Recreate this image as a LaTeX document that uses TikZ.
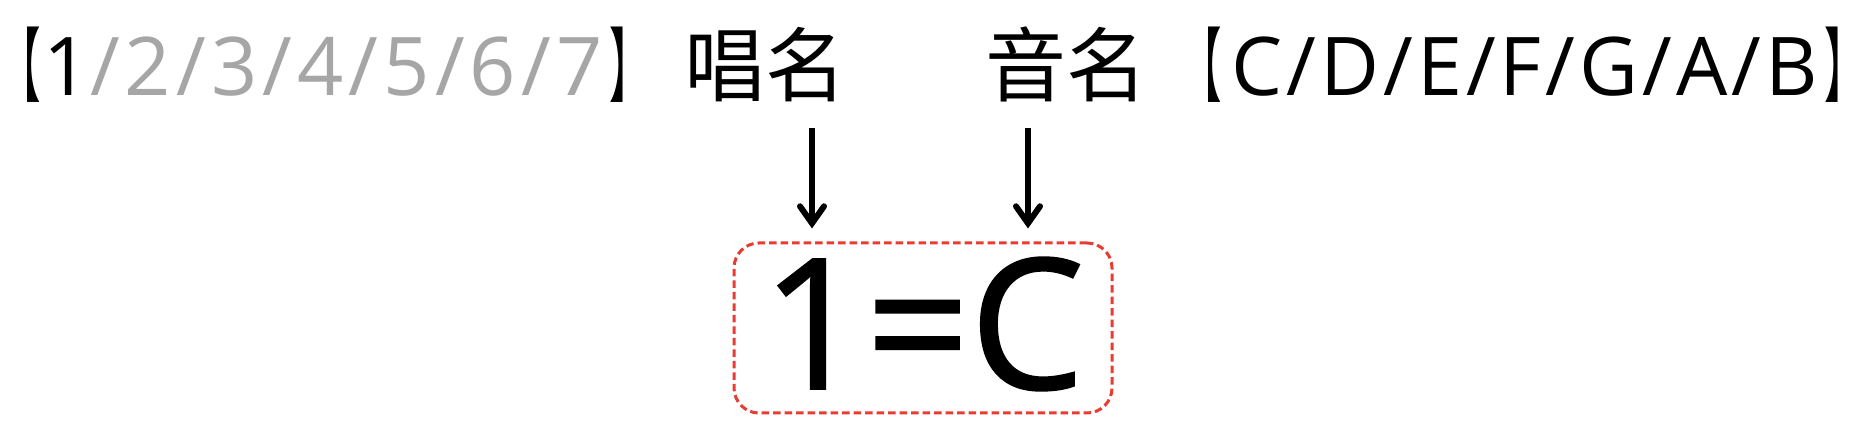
\documentclass[tikz,border=0pt]{standalone}
\usepackage{fontspec}
\setmainfont{Open Sans}
\newfontfamily\cjk{Noto Sans CJK SC}
\newfontfamily\cjktc{Noto Sans CJK TC}
\newfontfamily\digitls[LetterSpace=6.3]{Open Sans}
\newfontfamily\letterls[LetterSpace=5.0]{Open Sans}
\newfontfamily\keyfont[FakeBold=1]{Open Sans}
\newcommand{\lbr}[1]{\scalebox{0.5}[1]{\cjktc 【}\hspace{#1}}
\newcommand{\rbr}[1]{\hspace{#1}\scalebox{0.5}[1]{\cjktc 】}}
\usetikzlibrary{arrows.meta}
\definecolor{mygray}{HTML}{A6A6A6}
\definecolor{boxred}{HTML}{EA3B32}
\begin{document}
\begin{tikzpicture}[x=1pt,y=1pt,
  toptext/.style={inner sep=0pt, anchor=base, font=\fontsize{81}{81}\selectfont},
  pointer/.style={line width=6pt, -{Straight Barb[length=17pt,width=24pt,line cap=round]}},
  keybox/.style={draw=boxred, line width=3pt, dash pattern=on 7.5pt off 4pt, rounded corners=25pt,
    inner sep=0pt, anchor=base, minimum width=378pt, text height=146pt, text depth=24pt,
    font=\fontsize{182}{182}\keyfont}]
\useasboundingbox (0,0) rectangle (1870,438);
\node[toptext, anchor=base west] (solfa) at (0.5,342) {\lbr{2.5pt}{\digitls 1\textcolor{mygray}{/2/3/4/5/6/7}}\rbr{7pt}};
\node[toptext] (changming) at (765,342) {\cjk 唱名};
\node[toptext] (yinming) at (1066,342) {\cjk 音名};
\node[toptext, anchor=base west] (letters) at (1181,342) {\lbr{9.5pt}{\letterls C/D/E/F/G/A/B}\rbr{7pt}};
\node[keybox] (key) at (923,49) {1=C};
\coordinate (p1) at (812,310);
\coordinate (p2) at (1028,310);
\draw[pointer] (p1) -- ([yshift=13pt]p1 |- key.north);
\draw[pointer] (p2) -- ([yshift=13pt]p2 |- key.north);
\end{tikzpicture}
\end{document}
